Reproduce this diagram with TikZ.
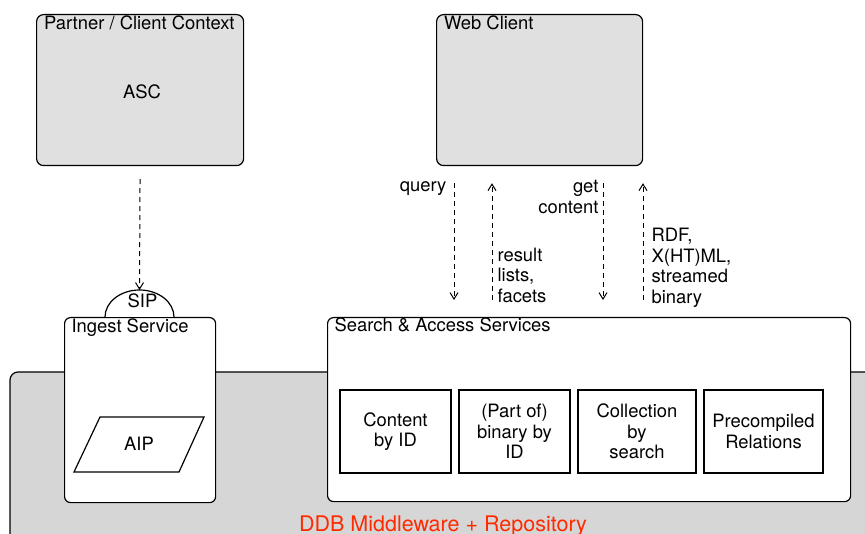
\documentclass[tikz,border=0pt]{standalone}
\usepackage{fontspec}
\setmainfont{TeX Gyre Heros}
\usetikzlibrary{arrows.meta}
\definecolor{panelgray}{HTML}{E0E0E0}
\definecolor{basegray}{HTML}{D6D6D6}
\definecolor{labelred}{HTML}{FF2A00}
\begin{document}
\begin{tikzpicture}[x=1pt,y=-1pt,
  font=\fontsize{18.4}{20.5}\selectfont, line width=1.2pt,
  panel/.style={draw, rounded corners=7pt, fill=panelgray, anchor=north west, inner sep=0},
  service/.style={draw, rounded corners=6pt, fill=white, anchor=north west, inner sep=0},
  part/.style={draw, fill=white, align=center, inner sep=0, minimum height=83pt, line width=1.1pt},
  title/.style={anchor=base west, inner sep=0},
  flow/.style={dash pattern=on 5pt off 4pt, line width=1pt,
    -{Straight Barb[length=6.5pt,width=8pt]}},
  note/.style={inner sep=0}]
\useasboundingbox (0,0) rectangle (865,534);
\clip (0,0) rectangle (865,534);

% middleware / repository layer running off the page
\draw[fill=basegray, rounded corners=8pt] (10,372) rectangle (900,580);
\node[anchor=base, inner sep=0, text=labelred, font=\fontsize{21.5}{24}\selectfont] (mwlabel) at (443,531.5) {DDB Middleware + Repository};

% client side
\node[panel, minimum width=207pt, minimum height=151pt] (partner) at (36,14) {};
\node[title] (partnertitle) at (43.5,30) {Partner / Client Context};
\node[inner sep=0] (asc) at ([xshift=2pt,yshift=-1.5pt]partner.center) {ASC};

\node[panel, minimum width=206pt, minimum height=151pt] (web) at (436,14) {};
\node[title] (webtitle) at (443.5,30) {Web Client};

% services
\node[service, minimum width=151pt, minimum height=185pt] (ingest) at (64,317) {};
\node[title] (ingesttitle) at (71,333) {Ingest Service};

\node[service, minimum width=523pt, minimum height=184pt] (search) at (327,317) {};
\node[title] (searchtitle) at (334,332) {Search \& Access Services};

% SIP port on top of the ingest service
\draw[fill=white] (105,317) arc[start angle=180, end angle=0, x radius=34.5pt, y radius=27pt];
\node[anchor=base, inner sep=0] (sip) at (142.5,308) {SIP};
\coordinate (siptop) at (139.5,290);

% archival package
\draw[fill=white] (100,417) -- (204,417) -- (179,472) -- (74,472) -- cycle;
\node[inner sep=0] (aip) at (139,444) {AIP};

% access services
\node[part, minimum width=111pt] (content) at (395.5,431.5) {Content\\by ID};
\node[part, minimum width=111pt] (binary) at (514.5,431.5) {(Part of)\\binary by\\ID};
\node[part, minimum width=118pt] (collection) at (637,431.5) {Collection\\by\\search};
\node[part, minimum width=119pt] (relations) at (763.5,431.5) {Precompiled\\Relations};

% flows
\draw[flow, shorten <=13pt] (partner.south) -- (siptop);

\coordinate (qx) at (454,0);
\coordinate (rx) at (492,0);
\coordinate (gx) at (603,0);
\coordinate (bx) at (643,0);
\draw[flow, shorten <=17pt, shorten >=17pt] (web.south -| qx) -- (search.north -| qx);
\draw[flow, shorten <=17pt, shorten >=17pt] (search.north -| rx) -- (web.south -| rx);
\draw[flow, shorten <=17pt, shorten >=17pt] (web.south -| gx) -- (search.north -| gx);
\draw[flow, shorten <=17pt, shorten >=17pt] (search.north -| bx) -- (web.south -| bx);

\node[note, anchor=base east] (querylbl) at (447,192) {query};
\node[note, align=right, anchor=east] (getlbl) at (599,197) {get\\content};
\node[note, align=left, anchor=west] (resultlbl) at (497,275) {result\\lists,\\facets};
\node[note, align=left, anchor=west] (rdflbl) at (651,268) {RDF,\\X(HT)ML,\\streamed\\binary};
\end{tikzpicture}
\end{document}
